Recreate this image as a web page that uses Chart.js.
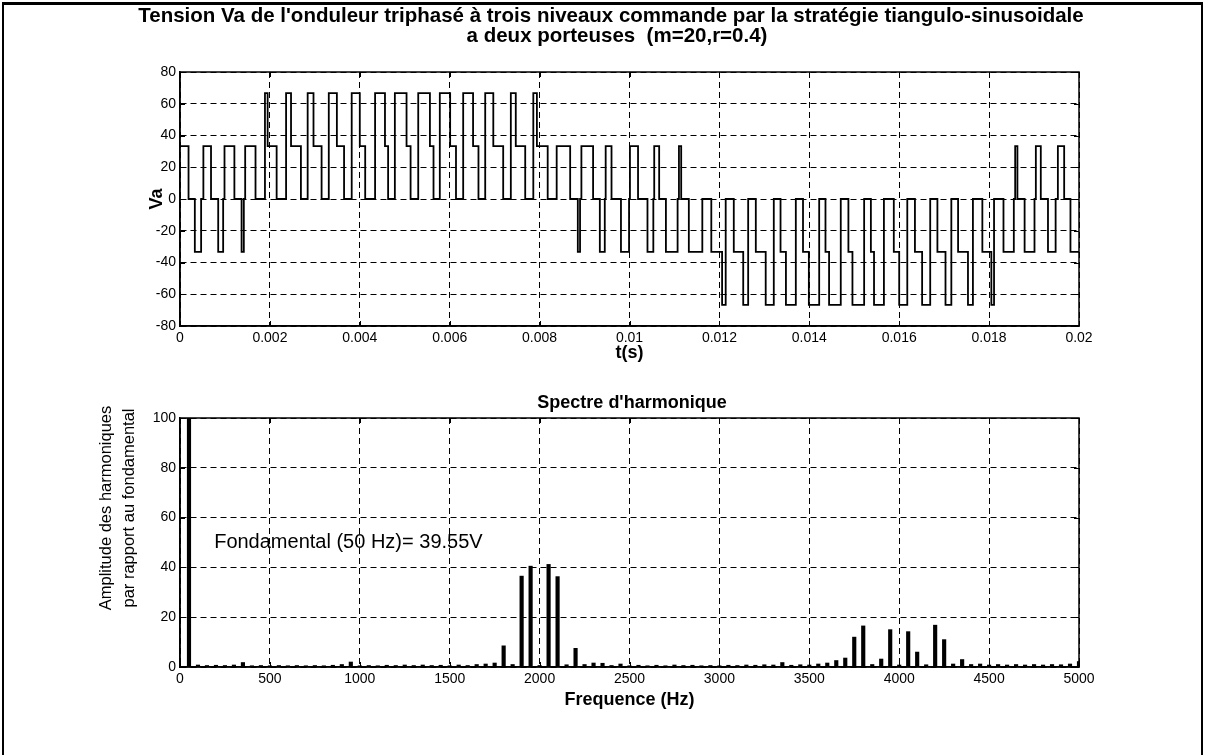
<!DOCTYPE html>
<html>
<head>
<meta charset="utf-8">
<script src="https://cdn.jsdelivr.net/npm/chart.js@4.4.1/dist/chart.umd.min.js"></script>
<style>
  body { margin: 0; background: #fff; }
  #page { position: relative; width: 1205px; height: 755px; overflow: hidden; background: #fff; }
  canvas { position: absolute; left: 0; }
  #frame { position: absolute; left: 2px; top: 2px; width: 1197px; height: 800px;
           border: 2px solid #000; border-top-width: 3px; pointer-events: none; }
</style>
</head>
<body>
<div id="page">
  <canvas id="va" width="1205" height="372" style="top:0"></canvas>
  <canvas id="spectre" width="1205" height="383" style="top:372px"></canvas>
  <div id="frame"></div>
</div>
<script>
// Va(t): switching instants in ms, and the level held from each instant on
const vaTimesMs = [
  0, 0.19, 0.33, 0.47, 0.52, 0.69, 0.85, 0.96, 0.99, 1.21,
  1.37, 1.42, 1.45, 1.68, 1.89, 1.95, 2.15, 2.36, 2.47, 2.69,
  2.84, 2.97, 3.15, 3.31, 3.49, 3.65, 3.82, 4.00, 4.12, 4.34,
  4.56, 4.63, 4.78, 5.04, 5.13, 5.30, 5.56, 5.64, 5.78, 6.01,
  6.14, 6.30, 6.52, 6.64, 6.79, 6.97, 7.19, 7.36, 7.47, 7.68,
  7.86, 7.94, 8.18, 8.38, 8.68, 8.85, 8.90, 8.93, 9.19, 9.34,
  9.45, 9.47, 9.60, 9.81, 9.99,
  10.01, 10.19, 10.40, 10.53, 10.55, 10.66, 10.81, 11.07, 11.10, 11.15,
  11.32, 11.62, 11.82, 12.06, 12.14, 12.32, 12.53, 12.64, 12.81, 13.03,
  13.21, 13.36, 13.48, 13.70, 13.86, 13.99, 14.22, 14.36, 14.44, 14.70,
  14.87, 14.96, 15.22, 15.37, 15.44, 15.66, 15.88, 16.00, 16.18, 16.35,
  16.51, 16.69, 16.85, 17.03, 17.16, 17.31, 17.53, 17.64, 17.85, 18.05,
  18.11, 18.32, 18.55, 18.58, 18.63, 18.79, 19.01, 19.04, 19.15, 19.31,
  19.48, 19.53, 19.67, 19.81, 20
];
const vaLevels = [
  33.3, 0, -33.3, 0, 33.3, 0, -33.3, 0, 33.3, 0,
  -33.3, 0, 33.3, 0, 66.7, 33.3, 0, 66.7, 33.3, 0,
  66.7, 33.3, 0, 66.7, 33.3, 0, 66.7, 33.3, 0, 66.7,
  33.3, 0, 66.7, 33.3, 0, 66.7, 33.3, 0, 66.7, 33.3,
  0, 66.7, 33.3, 0, 66.7, 33.3, 0, 66.7, 33.3, 0,
  66.7, 33.3, 0, 33.3, 0, -33.3, 0, 33.3, 0, -33.3,
  0, 33.3, 0, -33.3, 0,
  33.3, 0, -33.3, 0, 33.3, 0, -33.3, 0, 33.3, 0,
  -33.3, 0, -33.3, -66.7, 0, -33.3, -66.7, 0, -33.3, -66.7,
  0, -33.3, -66.7, 0, -33.3, -66.7, 0, -33.3, -66.7, 0,
  -33.3, -66.7, 0, -33.3, -66.7, 0, -33.3, -66.7, 0, -33.3,
  -66.7, 0, -33.3, -66.7, 0, -33.3, -66.7, 0, -33.3, -66.7,
  0, -33.3, 0, 33.3, 0, -33.3, 0, 33.3, 0, -33.3,
  0, 33.3, 0, -33.3, -33.3
];
const timeTickLabels = ['0', '0.002', '0.004', '0.006', '0.008', '0.01',
                        '0.012', '0.014', '0.016', '0.018', '0.02'];

// spectrum, % of the fundamental
const harmonicFreqs = [
  50, 100, 150, 200, 250, 300, 350, 400, 450, 500,
  550, 600, 650, 700, 750, 800, 850, 900, 950, 1000,
  1050, 1100, 1150, 1200, 1250, 1300, 1350, 1400, 1450, 1500,
  1550, 1600, 1650, 1700, 1750, 1800, 1850, 1900, 1950, 2000,
  2050, 2100, 2150, 2200, 2250, 2300, 2350, 2400, 2450, 2500,
  2550, 2600, 2650, 2700, 2750, 2800, 2850, 2900, 2950, 3000,
  3050, 3100, 3150, 3200, 3250, 3300, 3350, 3400, 3450, 3500,
  3550, 3600, 3650, 3700, 3750, 3800, 3850, 3900, 3950, 4000,
  4050, 4100, 4150, 4200, 4250, 4300, 4350, 4400, 4450, 4500,
  4550, 4600, 4650, 4700, 4750, 4800, 4850, 4900, 4950, 5000
];
const harmonicAmps = [
  100, 0.8, 0.6, 0.7, 0.6, 0.8, 1.8, 0.5, 0.6, 0.5,
  0.6, 0.5, 0.6, 0.5, 0.6, 0.5, 0.7, 1.0, 2.0, 0.5,
  0.6, 0.5, 0.7, 0.6, 0.8, 0.6, 0.8, 0.6, 0.7, 0.5,
  0.8, 0.6, 1.0, 1.2, 1.6, 8.5, 1.0, 36.5, 40.5, 0.6,
  41.2, 36.3, 0.9, 7.5, 1.0, 1.6, 1.5, 0.6, 1.2, 0.5,
  0.7, 0.5, 0.7, 0.5, 0.8, 0.6, 0.7, 0.5, 0.6, 0.5,
  0.7, 0.6, 0.8, 0.7, 0.9, 0.8, 1.8, 0.7, 0.9, 0.8,
  1.2, 1.6, 2.6, 3.6, 12, 16.5, 1.0, 3.2, 15, 0.8,
  14.2, 6, 0.9, 16.8, 11, 1.2, 3, 1.0, 1.2, 0.8,
  1.0, 0.8, 1.0, 0.8, 1.0, 0.8, 1.0, 0.9, 1.2, 2.2
];
const freqTickLabels = ['0', '500', '1000', '1500', '2000', '2500',
                        '3000', '3500', '4000', '4500', '5000'];

const vaTitle = ["Tension Va de l'onduleur triphasé à trois niveaux commande par la stratégie tiangulo-sinusoidale",
                 'a deux porteuses  (m=20,r=0.4)'];
const spectreTitle = "Spectre d'harmonique";
const spectreYLabel = ['Amplitude des harmoniques', 'par rapport au fondamental'];
const fundamentalNote = 'Fondamental (50 Hz)= 39.55V';

const FAMILY = '"Liberation Sans", Arial, Helvetica, sans-serif';
Chart.defaults.font.family = FAMILY;
Chart.defaults.color = '#000';

// box round the axes, inward ticks (matlab style) and free texts
function framePlugin(texts) {
  return {
    id: 'frame',
    afterDraw(chart) {
      const { ctx, chartArea: a, scales: { x, y } } = chart;
      ctx.save();
      ctx.strokeStyle = '#000';
      ctx.lineWidth = 1;
      ctx.beginPath();
      x.ticks.forEach((t, i) => {
        const px = Math.round(x.getPixelForTick(i)) + 0.5;
        ctx.moveTo(px, a.bottom); ctx.lineTo(px, a.bottom - 5);
        ctx.moveTo(px, a.top); ctx.lineTo(px, a.top + 5);
      });
      y.ticks.forEach((t, i) => {
        const py = Math.round(y.getPixelForTick(i)) + 0.5;
        ctx.moveTo(a.left, py); ctx.lineTo(a.left + 5, py);
        ctx.moveTo(a.right, py); ctx.lineTo(a.right - 5, py);
      });
      ctx.stroke();
      ctx.lineWidth = 1.5;
      ctx.strokeRect(a.left, a.top, a.right - a.left, a.bottom - a.top);

      texts.forEach(t => {
        const px = t.at ? x.getPixelForValue(t.at[0]) : t.x;
        const py = t.at ? y.getPixelForValue(t.at[1]) : t.y;
        ctx.save();
        ctx.translate(px, py);
        if (t.rotate) ctx.rotate(t.rotate);
        ctx.font = t.font;
        ctx.fillStyle = '#000';
        ctx.textAlign = t.align || 'center';
        ctx.textBaseline = 'middle';
        ctx.fillText(t.text, 0, 0);
        ctx.restore();
      });
      ctx.restore();
    }
  };
}

const gridStyle = { color: '#000', lineWidth: 1, drawTicks: false };
const borderStyle = { color: '#000', width: 1.5, dash: [6, 4] };
const tickFont = { size: 14 };

new Chart(document.getElementById('va'), {
  type: 'line',
  data: {
    datasets: [{
      data: vaTimesMs.map((t, i) => ({ x: t, y: vaLevels[i] })),
      stepped: true,
      borderColor: '#000',
      borderWidth: 1.8,
      pointRadius: 0,
      fill: false
    }]
  },
  options: {
    responsive: false,
    animation: false,
    devicePixelRatio: 1,
    layout: { padding: { top: 72, right: 126, left: 0, bottom: 0 } },
    plugins: { legend: { display: false }, tooltip: { enabled: false } },
    scales: {
      x: {
        type: 'linear', min: 0, max: 20,
        afterFit: s => { s.height = 46; },
        ticks: { stepSize: 2, autoSkip: false, maxRotation: 0, padding: 4, font: tickFont,
                 callback: (v, i) => timeTickLabels[i] },
        grid: gridStyle, border: borderStyle,
        title: { display: true, text: 't(s)', font: { size: 18, weight: 'bold' },
                 padding: { top: 0, bottom: 8 } }
      },
      y: {
        min: -80, max: 80,
        afterFit: s => { s.width = 180; },
        ticks: { stepSize: 20, padding: 4, font: tickFont },
        grid: gridStyle, border: borderStyle,
        title: { display: true, text: 'Va', font: { size: 18, weight: 'bold' },
                 padding: { top: 146, bottom: 0 } }
      }
    }
  },
  plugins: [framePlugin([
    { text: vaTitle[0], x: 611, y: 16, font: 'bold 20.5px ' + FAMILY },
    { text: vaTitle[1], x: 617, y: 36, font: 'bold 20.5px ' + FAMILY }
  ])]
});

new Chart(document.getElementById('spectre'), {
  type: 'bar',
  data: {
    datasets: [{
      data: harmonicFreqs.map((f, i) => ({ x: f, y: harmonicAmps[i] })),
      backgroundColor: '#000',
      barThickness: 3.5,
      grouped: false
    }]
  },
  options: {
    responsive: false,
    animation: false,
    devicePixelRatio: 1,
    layout: { padding: { top: 46, right: 126, left: 0, bottom: 0 } },
    plugins: { legend: { display: false }, tooltip: { enabled: false } },
    scales: {
      x: {
        type: 'linear', min: 0, max: 5000, offset: false,
        afterFit: s => { s.height = 88; },
        ticks: { stepSize: 500, autoSkip: false, maxRotation: 0, padding: 4, font: tickFont,
                 callback: (v, i) => freqTickLabels[i] },
        grid: { ...gridStyle, offset: false }, border: borderStyle,
        title: { display: true, text: 'Frequence (Hz)', font: { size: 18, weight: 'bold' },
                 padding: { top: 0, bottom: 44 } }
      },
      y: {
        min: 0, max: 100,
        afterFit: s => { s.width = 180; },
        ticks: { stepSize: 20, padding: 4, font: tickFont },
        grid: gridStyle, border: borderStyle
      }
    }
  },
  plugins: [framePlugin([
    { text: spectreTitle, x: 632, y: 31, font: 'bold 18px ' + FAMILY },
    { text: spectreYLabel[0], x: 106, y: 136, rotate: -Math.PI / 2, font: '16.5px ' + FAMILY },
    { text: spectreYLabel[1], x: 129, y: 136, rotate: -Math.PI / 2, font: '16.5px ' + FAMILY },
    { text: fundamentalNote, at: [190, 50], align: 'left', font: '20px ' + FAMILY }
  ])]
});
</script>
</body>
</html>
